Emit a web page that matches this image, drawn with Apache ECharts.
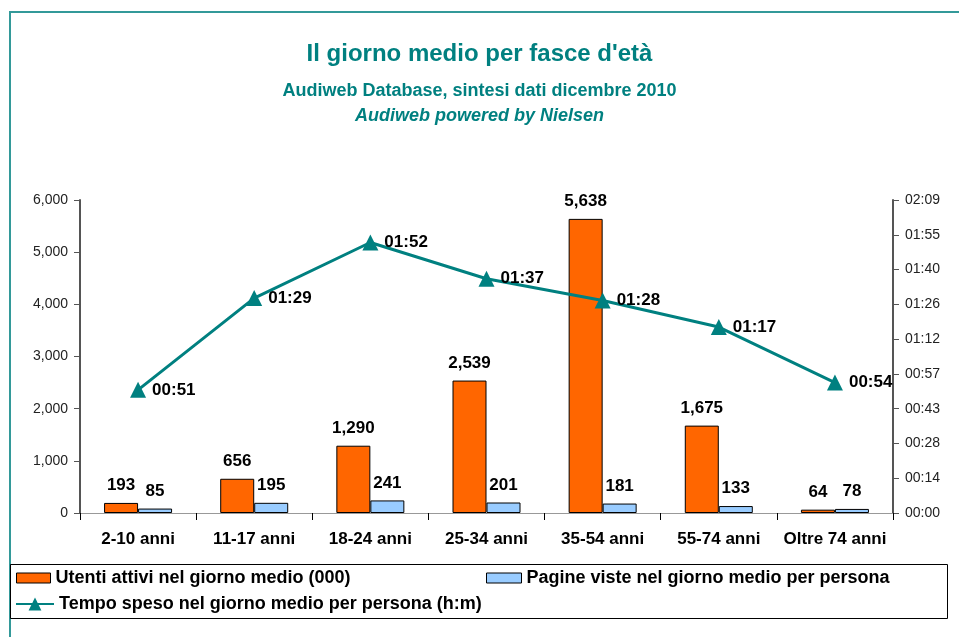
<!DOCTYPE html>
<html><head><meta charset="utf-8">
<script src="https://cdn.jsdelivr.net/npm/echarts@6/dist/echarts.min.js"></script>
<style>html,body{margin:0;padding:0;background:#fff}#c{width:959px;height:637px}</style>
</head><body><div id="c"></div>
<script>
const categories = ['2-10 anni','11-17 anni','18-24 anni','25-34 anni','35-54 anni','55-74 anni','Oltre 74 anni'];
const utenti = [193, 656, 1290, 2539, 5638, 1675, 64];
const pagine = [85, 195, 241, 201, 181, 133, 78];
const tempoMinuti = [51, 89, 112, 97, 88, 77, 54];
const leftTicks = { min: 0, max: 6000, interval: 1000 };
const rightTicks = { min: 0, max: 129.6, interval: 14.4 };

const FONT = '"Liberation Sans", Arial, sans-serif';
const TEAL = '#008080';
function hm(v){ const m = Math.floor(v + 1e-6); const h = Math.floor(m/60); const mm = m%60; return String(h).padStart(2,'0') + ':' + String(mm).padStart(2,'0'); }
function thousands(v){ return String(v).replace(/\B(?=(\d{3})+(?!\d))/g, ','); }

const chart = echarts.init(document.getElementById('c'), null, {renderer:'canvas'});
const names = ['Utenti attivi nel giorno medio (000)', 'Pagine viste nel giorno medio per persona', 'Tempo speso nel giorno medio per persona (h:m)'];
const barLabel = { show: true, position: 'top', distance: 9, fontFamily: FONT, fontWeight: 'bold', fontSize: 17, color: '#000', formatter: p => thousands(p.value) };
const legendText = { fontFamily: FONT, fontWeight: 'bold', fontSize: 18, color: '#000' };
chart.setOption({
  animation: false,
  textStyle: { fontFamily: FONT },
  title: [
    { text: "Il giorno medio per fasce d'età", left: 'center', top: 37, textStyle: { color: TEAL, fontSize: 24, fontWeight: 'bold', fontFamily: FONT } },
    { text: 'Audiweb Database, sintesi dati dicembre 2010', left: 'center', top: 77, textStyle: { color: TEAL, fontSize: 18, fontWeight: 'bold', fontFamily: FONT } },
    { text: 'Audiweb powered by Nielsen', left: 'center', top: 102, textStyle: { color: TEAL, fontSize: 18, fontWeight: 'bold', fontStyle: 'italic', fontFamily: FONT } }
  ],
  graphic: [
    { type: 'rect', shape: { x: 10, y: 12, width: 980, height: 700 }, style: { fill: 'none', stroke: '#339999', lineWidth: 2 }, z: -1 },
    { type: 'rect', shape: { x: 10.5, y: 564.5, width: 937, height: 54 }, style: { fill: 'none', stroke: '#000', lineWidth: 1 }, z: -1 }
  ],
  legend: [
    { data: [{ name: names[0], icon: 'rect' }], left: 16, top: 569, itemWidth: 34, itemHeight: 10, itemGap: 0, textStyle: legendText, padding: 0, itemStyle: { borderWidth: 1, borderColor: '#000' } },
    { data: [{ name: names[1], icon: 'rect' }], left: 486, top: 569, itemWidth: 35, itemHeight: 10, itemGap: 0, textStyle: legendText, padding: 0, itemStyle: { borderWidth: 1, borderColor: '#000' } },
    { data: [names[2]], left: 15, top: 595, itemWidth: 38, itemHeight: 16, itemGap: 0, textStyle: legendText, padding: 0 }
  ],
  grid: { left: 80, right: 66, top: 200, bottom: 124, containLabel: false },
  xAxis: [
    { type: 'category', data: categories, position: 'bottom',
      axisLine: { lineStyle: { color: '#000', width: 1 } },
      axisTick: { show: true, alignWithLabel: false, length: 7, lineStyle: { color: '#000' } },
      axisLabel: { fontFamily: FONT, fontWeight: 'bold', fontSize: 17, color: '#000', margin: 18, interval: 0 } },
    { type: 'category', data: categories, position: 'top',
      axisLine: { show: true, lineStyle: { color: '#999', width: 1 } }, axisTick: { show: false }, axisLabel: { show: false } }
  ],
  yAxis: [
    { type: 'value', min: leftTicks.min, max: leftTicks.max, interval: leftTicks.interval, position: 'left',
      axisLine: { show: true, lineStyle: { color: '#555', width: 2 } },
      axisTick: { show: true, length: 6, lineStyle: { color: '#555' } },
      splitLine: { show: false },
      axisLabel: { fontFamily: FONT, fontSize: 14, color: '#222', margin: 12, formatter: v => thousands(v) } },
    { type: 'value', min: rightTicks.min, max: rightTicks.max, interval: rightTicks.interval, position: 'right',
      axisLine: { show: true, lineStyle: { color: '#555', width: 2 } },
      axisTick: { show: true, length: 6, lineStyle: { color: '#555' } },
      splitLine: { show: false },
      axisLabel: { fontFamily: FONT, fontSize: 14, color: '#222', margin: 12, formatter: v => hm(v) } }
  ],
  series: [
    { name: names[0], type: 'bar', data: utenti, yAxisIndex: 0, barWidth: 34, barGap: '0%',
      itemStyle: { color: '#ff6600', borderColor: '#000', borderWidth: 1 }, label: barLabel },
    { name: names[1], type: 'bar', data: pagine, yAxisIndex: 0, barWidth: 34, barGap: '0%',
      itemStyle: { color: '#99ccff', borderColor: '#000', borderWidth: 1 }, label: barLabel },
    { name: names[2], type: 'line', data: tempoMinuti, yAxisIndex: 1, symbol: 'triangle', symbolSize: 16,
      lineStyle: { color: TEAL, width: 3 }, itemStyle: { color: TEAL },
      label: { show: true, position: 'right', distance: 6, fontFamily: FONT, fontWeight: 'bold', fontSize: 17, color: '#000', formatter: p => hm(p.value) } }
  ]
});
</script></body></html>
